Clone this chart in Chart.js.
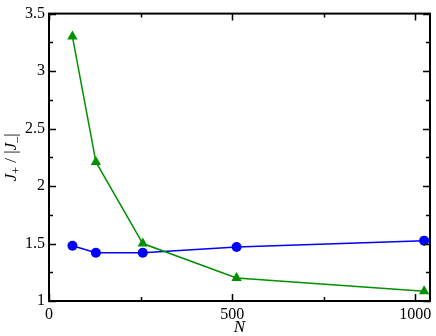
<!DOCTYPE html>
<html lang="en">
<head>
    <meta charset="UTF-8">
    <title>J+/|J-| vs N</title>
    <style>
        body { margin: 0; background: #fff; }
        #wrap { width: 436px; height: 336px; }
    </style>
</head>
<body>
    <div id="wrap"><canvas id="chart"></canvas></div>
    <script src="https://cdn.jsdelivr.net/npm/chart.js"></script>
    <script>
        const sizes = [64, 128, 256, 512, 1024];
        const greenVals = [3.30, 2.21, 1.50, 1.20, 1.085];
        const blueVals = [1.48, 1.42, 1.42, 1.47, 1.525];
        const xTicks = [0, 250, 500, 750, 1000];
        const xMajor = [0, 500, 1000];
        const yMajor = [1, 1.5, 2, 2.5, 3, 3.5];

        const serif = '"Liberation Serif", "Times New Roman", serif';

        const toPoints = vals => sizes.map((n, i) => ({ x: n, y: vals[i] }));

        // inward ticks on all four sides + frame + axis titles
        const frame = {
            id: 'frame',
            afterDraw(chart) {
                const { ctx, chartArea: a, scales } = chart;
                ctx.save();
                ctx.strokeStyle = '#000';
                ctx.lineWidth = 2;
                ctx.strokeRect(a.left, a.top, a.right - a.left, a.bottom - a.top);
                ctx.lineWidth = 1.5;
                ctx.beginPath();
                scales.x.ticks.forEach(t => {
                    const px = Math.round(scales.x.getPixelForValue(t.value)) + 0.5;
                    const len = xMajor.includes(t.value) ? 7 : 4;
                    ctx.moveTo(px, a.bottom); ctx.lineTo(px, a.bottom - len);
                    ctx.moveTo(px, a.top); ctx.lineTo(px, a.top + len);
                });
                scales.y.ticks.forEach(t => {
                    const py = Math.round(scales.y.getPixelForValue(t.value)) + 0.5;
                    const len = yMajor.includes(t.value) ? 7 : 4;
                    ctx.moveTo(a.left, py); ctx.lineTo(a.left + len, py);
                    ctx.moveTo(a.right, py); ctx.lineTo(a.right - len, py);
                });
                ctx.stroke();

                // x title
                ctx.fillStyle = '#000';
                ctx.font = 'italic 17px ' + serif;
                ctx.textAlign = 'center';
                ctx.textBaseline = 'alphabetic';
                ctx.fillText('N', (a.left + a.right) / 2, 332);

                // y title: J+ / |J-|
                ctx.translate(10, (a.top + a.bottom) / 2);
                ctx.rotate(-Math.PI / 2);
                const parts = [
                    ['J', 'italic 17px ', 0],
                    ['+', '12px ', 4],
                    [' / |', '17px ', 0],
                    ['J', 'italic 17px ', 0],
                    ['\u2013', '12px ', 4],
                    ['|', '17px ', 0]
                ];
                let w = 0;
                parts.forEach(p => { ctx.font = p[1] + serif; w += ctx.measureText(p[0]).width; });
                let x = -w / 2;
                ctx.textAlign = 'left';
                parts.forEach(p => {
                    ctx.font = p[1] + serif;
                    ctx.fillText(p[0], x, 6 + p[2]);
                    x += ctx.measureText(p[0]).width;
                });
                ctx.restore();
            }
        };

        new Chart(document.getElementById('chart'), {
            type: 'scatter',
            data: {
                datasets: [
                    {
                        data: toPoints(greenVals),
                        showLine: true,
                        borderColor: '#009000',
                        backgroundColor: '#009000',
                        borderWidth: 1.5,
                        pointStyle: 'triangle',
                        pointRadius: 6,
                        pointBorderWidth: 0
                    },
                    {
                        data: toPoints(blueVals),
                        showLine: true,
                        borderColor: '#0000ff',
                        backgroundColor: '#0000ff',
                        borderWidth: 1.5,
                        pointStyle: 'circle',
                        pointRadius: 5,
                        pointBorderWidth: 0
                    }
                ]
            },
            options: {
                responsive: true,
                maintainAspectRatio: false,
                animation: false,
                layout: { padding: { top: 6, right: 6, left: 0, bottom: 0 } },
                plugins: { legend: { display: false }, tooltip: { enabled: false } },
                scales: {
                    x: {
                        type: 'linear',
                        min: 0,
                        max: 1040,
                        grid: { display: false, drawTicks: false },
                        border: { display: false },
                        afterBuildTicks: s => { s.ticks = xTicks.map(v => ({ value: v })); },
                        ticks: {
                            color: '#000',
                            padding: 4,
                            maxRotation: 0,
                            autoSkip: false,
                            font: { family: serif, size: 16 },
                            callback: v => xMajor.includes(v) ? String(v) : ''
                        },
                        afterFit: s => { s.height = 35; }
                    },
                    y: {
                        min: 1,
                        max: 3.5,
                        grid: { display: false, drawTicks: false },
                        border: { display: false },
                        ticks: {
                            stepSize: 0.25,
                            color: '#000',
                            padding: 4,
                            autoSkip: false,
                            font: { family: serif, size: 16 },
                            callback: v => yMajor.includes(v) ? String(v) : ''
                        },
                        afterFit: s => { s.width = 49; }
                    }
                }
            },
            plugins: [frame]
        });
    </script>
</body>
</html>
